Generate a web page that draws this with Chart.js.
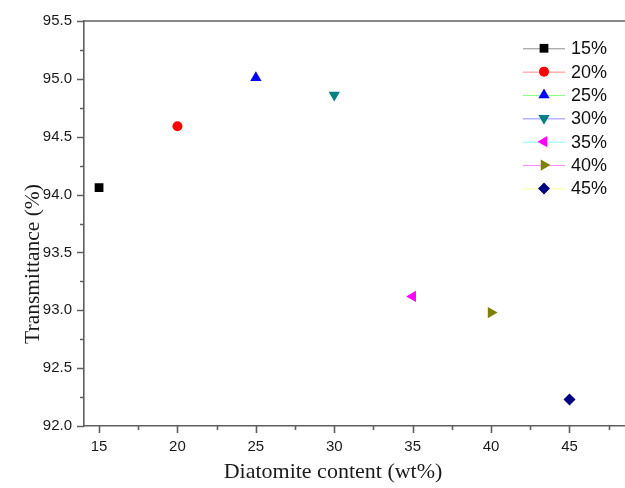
<!DOCTYPE html>
<html>
<head>
<meta charset="utf-8">
<script src="https://cdn.jsdelivr.net/npm/chart.js@4.4.1/dist/chart.umd.min.js"></script>
<style>
  html, body { margin: 0; padding: 0; background: #fff; }
  #chart_transmittance { display: block; }
</style>
</head>
<body>
<canvas id="chart_transmittance" width="625" height="488"></canvas>
<script>
// data
const diatomiteContent = [15, 20, 25, 30, 35, 40, 45];
const transmittance = [94.06, 94.59, 95.01, 94.86, 93.12, 92.98, 92.23];
const seriesLabels = ['15%', '20%', '25%', '30%', '35%', '40%', '45%'];
const xTickValues = [15, 20, 25, 30, 35, 40, 45];
const yTickValues = [92.0, 92.5, 93.0, 93.5, 94.0, 94.5, 95.0, 95.5];

// styling, one entry per series
const markerColors = ['#000000', '#ff0000', '#0000ff', '#008080', '#ff00ff', '#808000', '#000080'];
const legendLineColors = ['#8c8c8c', '#ff8c8c', '#8cff8c', '#8c8cff', '#8cffff', '#ff8cff', '#ffff9a'];
const markerStyles = ['rect', 'circle', 'triangle', 'triangle', 'triangle', 'triangle', 'rectRot'];
const markerRotation = [0, 0, 0, 180, 270, 90, 0];
const markerRadius = [6.2, 5, 6.5, 6.5, 6.5, 6.5, 6];

const axisColor = '#5f5f5f';

const datasets = diatomiteContent.map((x, i) => ({
    label: seriesLabels[i],
    data: [{ x: x, y: transmittance[i] }],
    showLine: false,
    pointStyle: markerStyles[i],
    rotation: markerRotation[i],
    pointRadius: markerRadius[i],
    pointHoverRadius: markerRadius[i],
    pointBackgroundColor: markerColors[i],
    pointBorderColor: markerColors[i],
    pointBorderWidth: 0,
    legendLineColor: legendLineColors[i]
}));

const minorOf = (vals) => vals.slice(0, -1).map((v, i) => (v + vals[i + 1]) / 2);

const frameAndTicks = {
    id: 'frameAndTicks',
    afterDraw: (chart) => {
        const ctx = chart.ctx;
        const xs = chart.scales.x, ys = chart.scales.y;
        const area = chart.chartArea;
        ctx.save();
        ctx.strokeStyle = axisColor;
        ctx.lineWidth = 1.6;
        ctx.beginPath();
        // top frame line
        ctx.moveTo(area.left, area.top);
        ctx.lineTo(area.right, area.top);
        xTickValues.forEach(v => {
            const px = Math.round(xs.getPixelForValue(v)) + 0.5;
            ctx.moveTo(px, area.bottom); ctx.lineTo(px, area.bottom + 7);
        });
        minorOf(xTickValues).concat([47.5]).forEach(v => {
            const px = Math.round(xs.getPixelForValue(v)) + 0.5;
            if (px <= area.right) { ctx.moveTo(px, area.bottom); ctx.lineTo(px, area.bottom + 4); }
        });
        yTickValues.forEach(v => {
            const py = Math.round(ys.getPixelForValue(v)) + 0.5;
            ctx.moveTo(area.left - 7, py); ctx.lineTo(area.left, py);
        });
        minorOf(yTickValues).forEach(v => {
            const py = Math.round(ys.getPixelForValue(v)) + 0.5;
            ctx.moveTo(area.left - 4, py); ctx.lineTo(area.left, py);
        });
        ctx.stroke();

        // axis titles
        ctx.fillStyle = '#1a1a1a';
        ctx.textAlign = 'center';
        ctx.textBaseline = 'middle';
        ctx.font = '22px "Liberation Serif", "Times New Roman", serif';
        ctx.fillText('Diatomite content (wt%)', 333, 472);
        ctx.font = '21.5px "Liberation Serif", "Times New Roman", serif';
        ctx.translate(33, 264);
        ctx.rotate(-Math.PI / 2);
        ctx.fillText('Transmittance (%)', 0, 0);
        ctx.restore();

        // legend: line sample with marker, then label
        ctx.save();
        ctx.font = '18px "Liberation Sans", Arial, sans-serif';
        ctx.textAlign = 'left';
        ctx.textBaseline = 'middle';
        chart.data.datasets.forEach((ds, i) => {
            const y = 48.3 + i * 23.35;
            ctx.strokeStyle = ds.legendLineColor;
            ctx.lineWidth = 1;
            ctx.beginPath();
            ctx.moveTo(523, y + 0.5);
            ctx.lineTo(565, y + 0.5);
            ctx.stroke();
            ctx.fillStyle = ds.pointBackgroundColor;
            ctx.strokeStyle = ds.pointBorderColor;
            Chart.helpers.drawPoint(ctx, {
                pointStyle: ds.pointStyle,
                rotation: ds.rotation,
                radius: ds.pointRadius,
                borderWidth: 0
            }, 544, y);
            ctx.fillStyle = '#111111';
            ctx.fillText(ds.label, 571, y + 1);
        });
        ctx.restore();
    }
};

var chart_transmittance = new Chart(document.getElementById('chart_transmittance'), {
    type: 'scatter',
    data: { datasets: datasets },
    options: {
        animation: false,
        responsive: false,
        layout: { autoPadding: false, padding: { top: 21, right: 0, left: 0, bottom: 0 } },
        plugins: {
            legend: { display: false },
            tooltip: { enabled: false }
        },
        scales: {
            x: {
                type: 'linear',
                min: 14.04,
                max: 48.54,
                afterBuildTicks: (scale) => { scale.ticks = xTickValues.map(v => ({ value: v })); },
                afterFit: (scale) => { scale.height = 62; scale.paddingLeft = 0; scale.paddingRight = 0; },
                grid: { display: false, drawTicks: true, tickLength: 7 },
                border: { display: true, color: axisColor, width: 1.6 },
                ticks: {
                    padding: 5,
                    color: '#1a1a1a',
                    maxRotation: 0,
                    font: { family: '"Liberation Sans", Arial, sans-serif', size: 15 },
                    callback: (v) => String(v)
                }
            },
            y: {
                type: 'linear',
                min: 92,
                max: 95.5,
                afterBuildTicks: (scale) => { scale.ticks = yTickValues.map(v => ({ value: v })); },
                afterFit: (scale) => { scale.width = 84; scale.paddingTop = 0; scale.paddingBottom = 0; },
                grid: { display: false, drawTicks: true, tickLength: 7 },
                border: { display: true, color: axisColor, width: 1.6 },
                ticks: {
                    padding: 5,
                    color: '#1a1a1a',
                    font: { family: '"Liberation Sans", Arial, sans-serif', size: 15 },
                    callback: (v) => Number(v).toFixed(1)
                }
            }
        }
    },
    plugins: [frameAndTicks]
});
</script>
</body>
</html>
